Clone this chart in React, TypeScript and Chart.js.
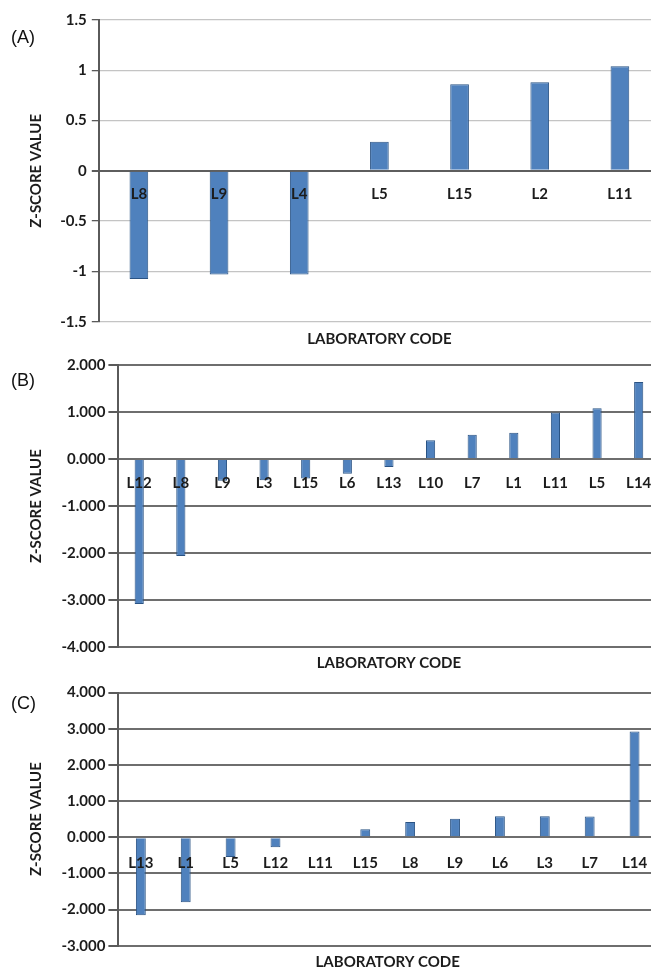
import React, { useEffect, useRef } from 'react';
import { Chart, registerables } from 'chart.js';

Chart.register(...registerables);

// ---------- data ----------
const labelsA = ['L8', 'L9', 'L4', 'L5', 'L15', 'L2', 'L11'];
const valuesA = [-1.075, -1.03, -1.03, 0.29, 0.86, 0.88, 1.04];

const labelsB = ['L12', 'L8', 'L9', 'L3', 'L15', 'L6', 'L13', 'L10', 'L7', 'L1', 'L11', 'L5', 'L14'];
const valuesB = [-3.08, -2.06, -0.46, -0.45, -0.41, -0.31, -0.17, 0.4, 0.52, 0.56, 0.99, 1.08, 1.64];

const labelsC = ['L13', 'L1', 'L5', 'L12', 'L11', 'L15', 'L8', 'L9', 'L6', 'L3', 'L7', 'L14'];
const valuesC = [-2.16, -1.8, -0.55, -0.28, 0, 0.22, 0.42, 0.51, 0.58, 0.58, 0.57, 2.92];

const panelTags = ['(A)', '(B)', '(C)'];
const xTitle = 'LABORATORY CODE';
const yTitle = 'Z-SCORE VALUE';

// ---------- styles / geometry ----------
const CW = 670;
const FONT = 'Lato, "Open Sans", sans-serif';
const TEXT = '#1c1c1c';
const FS = 15;

type Panel = {
  labels: string[];
  values: number[];
  min: number;
  max: number;
  step: number;
  decimals: number;
  top: number;
  height: number;
  plotLeft: number;
  plotTop: number;
  plotBottom: number;
  plotRight: number;
  barPct: number;
  gridColor: string;
  gridWidth: number;
  zeroColor: string;
  zeroWidth: number;
  labelCenter: number;
  tickLen: number;
  tickPad: number;
  xTitleCenter: number;
  yTitleCenter: number;
  tagTop: number;
};

const panels: Panel[] = [
  {
    labels: labelsA, values: valuesA, min: -1.5, max: 1.5, step: 0.5, decimals: -1,
    top: 0, height: 350, plotLeft: 98.8, plotTop: 20, plotBottom: 321.7, plotRight: 660,
    barPct: 0.233, gridColor: '#c4c4c4', gridWidth: 1.3, zeroColor: '#5e5e5e', zeroWidth: 2,
    labelCenter: 23, tickLen: 7, tickPad: 5, xTitleCenter: 339, yTitleCenter: 36, tagTop: 27,
  },
  {
    labels: labelsB, values: valuesB, min: -4, max: 2, step: 1, decimals: 3,
    top: 350, height: 325, plotLeft: 118.4, plotTop: 365, plotBottom: 647.3, plotRight: 659.5,
    barPct: 0.22, gridColor: '#6e6e6e', gridWidth: 2, zeroColor: '#6e6e6e', zeroWidth: 2,
    labelCenter: 24, tickLen: 10, tickPad: 3, xTitleCenter: 663.3, yTitleCenter: 36, tagTop: 370,
  },
  {
    labels: labelsC, values: valuesC, min: -3, max: 4, step: 1, decimals: 3,
    top: 675, height: 300, plotLeft: 118.4, plotTop: 692.5, plotBottom: 945.7, plotRight: 657,
    barPct: 0.22, gridColor: '#6e6e6e', gridWidth: 2, zeroColor: '#6e6e6e', zeroWidth: 2,
    labelCenter: 25.7, tickLen: 10, tickPad: 3, xTitleCenter: 961.7, yTitleCenter: 36, tagTop: 693,
  },
];

function fmt(v: number, decimals: number): string {
  if (decimals < 0) {
    const r = Math.round(v * 100) / 100;
    return String(r);
  }
  return v.toFixed(decimals);
}

function PanelChart({ p }: { p: Panel }) {
  const ref = useRef<HTMLCanvasElement | null>(null);

  useEffect(() => {
    if (!ref.current) return;
    const tickFont = { family: FONT, size: FS, weight: 'bold' as const };
    const titleFont = { family: FONT, size: FS, weight: 'bold' as const };
    const lh = FS * 1.2;
    const localBottom = p.plotBottom - p.top;
    const xAxisH = p.height - localBottom;
    const xTitlePadBottom = p.height - (p.xTitleCenter - p.top) - lh / 2;

    const chart = new Chart(ref.current, {
      type: 'bar',
      data: {
        labels: p.labels,
        datasets: [
          {
            data: p.values,
            xAxisID: 'x',
            yAxisID: 'y',
            backgroundColor: '#4F81BD',
            borderColor: '#2A5384',
            borderWidth: 1,
            barPercentage: p.barPct,
            categoryPercentage: 1,
          },
        ],
      },
      options: {
        responsive: false,
        animation: false,
        devicePixelRatio: 1,
        layout: {
          padding: { top: p.plotTop - p.top, left: 0, right: CW - p.plotRight, bottom: 0 },
        },
        plugins: { legend: { display: false }, tooltip: { enabled: false } },
        scales: {
          x: {
            type: 'category',
            position: 'bottom',
            offset: true,
            ticks: { display: false },
            grid: { display: false, drawTicks: false },
            border: { display: false },
            title: {
              display: true,
              text: xTitle,
              font: titleFont,
              color: TEXT,
              padding: { top: 0, bottom: xTitlePadBottom },
            },
            afterFit: (s: any) => {
              s.height = xAxisH;
            },
          },
          x2: {
            type: 'category',
            axis: 'x',
            position: { y: 0 },
            offset: true,
            ticks: {
              z: 1,
              autoSkip: false,
              maxRotation: 0,
              minRotation: 0,
              font: tickFont,
              color: TEXT,
              padding: p.labelCenter - lh / 2,
            },
            grid: { display: false, drawTicks: false },
            border: { display: false },
          },
          y: {
            type: 'linear',
            position: 'left',
            min: p.min,
            max: p.max,
            ticks: {
              stepSize: p.step,
              font: tickFont,
              color: TEXT,
              padding: p.tickPad,
              callback: (v: any) => fmt(Number(v), p.decimals),
            },
            grid: {
              color: (ctx: any) => (ctx.tick && ctx.tick.value === 0 ? p.zeroColor : p.gridColor),
              lineWidth: (ctx: any) => (ctx.tick && ctx.tick.value === 0 ? p.zeroWidth : p.gridWidth),
              tickColor: '#5a5a5a',
              tickLength: p.tickLen,
              drawTicks: true,
            },
            border: { display: true, color: '#5a5a5a', width: 2 },
            title: {
              display: true,
              text: yTitle,
              font: titleFont,
              color: TEXT,
              padding: { top: p.yTitleCenter - lh / 2, bottom: 0 },
            },
            afterFit: (s: any) => {
              s.width = p.plotLeft;
            },
          },
        },
      } as any,
    });
    return () => chart.destroy();
  }, [p]);

  return (
    <canvas
      ref={ref}
      width={CW}
      height={p.height}
      style={{ position: 'absolute', left: 0, top: p.top, width: CW, height: p.height }}
    />
  );
}

export default function App() {
  return (
    <div
      style={{
        position: 'absolute',
        left: 0,
        top: 0,
        width: 651,
        height: 968,
        overflow: 'hidden',
        background: '#ffffff',
      }}
    >
      {panels.map((p, i) => (
        <PanelChart key={i} p={p} />
      ))}
      {panels.map((p, i) => (
        <div
          key={'t' + i}
          style={{
            position: 'absolute',
            left: 11,
            top: p.tagTop,
            fontFamily: '"Liberation Sans", Arial, sans-serif',
            fontSize: 18,
            lineHeight: '20px',
            color: '#111',
          }}
        >
          {panelTags[i]}
        </div>
      ))}
    </div>
  );
}
